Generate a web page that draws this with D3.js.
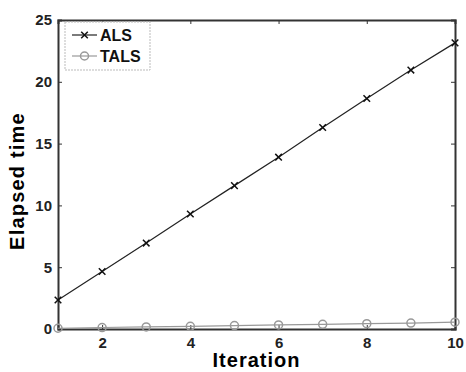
<!DOCTYPE html>
<html>
<head>
<meta charset="utf-8">
<script src="https://cdn.jsdelivr.net/npm/d3@7"></script>
<style>
  body { margin: 0; background: #fff; }
  text { font-family: "Liberation Sans", Arial, sans-serif; font-weight: bold; }
</style>
</head>
<body>
<div id="chart"></div>
<script>
// Data
var iterations = [1, 2, 3, 4, 5, 6, 7, 8, 9, 10];
var alsTime = [2.35, 4.65, 6.95, 9.3, 11.6, 13.9, 16.3, 18.65, 20.95, 23.15];
var talsTime = [0.06, 0.12, 0.17, 0.22, 0.28, 0.33, 0.38, 0.43, 0.48, 0.55];
var xTicks = [2, 4, 6, 8, 10];
var yTicks = [0, 5, 10, 15, 20, 25];

var width = 466, height = 372;
var margin = {top: 20, right: 11, bottom: 43, left: 58};
var w = width - margin.left - margin.right,
    h = height - margin.top - margin.bottom;

var svg = d3.select("#chart").append("svg")
    .attr("width", width)
    .attr("height", height);

var g = svg.append("g")
    .attr("transform", "translate(" + margin.left + "," + margin.top + ")");

var x = d3.scaleLinear().domain([1, 10]).range([0, w]);
var y = d3.scaleLinear().domain([0, 25]).range([h, 0]);

// Axes (ticks pointing inward, like matlab)
var xAxis = d3.axisBottom(x).tickValues(xTicks).tickSize(-4).tickPadding(8);
var yAxis = d3.axisLeft(y).tickValues(yTicks).tickSize(-4).tickPadding(6);

g.append("g").attr("class", "x axis")
    .attr("transform", "translate(0," + h + ")")
    .call(xAxis);
g.append("g").attr("class", "y axis").call(yAxis);
g.append("g").attr("transform", "translate(0,0)")
    .call(d3.axisTop(x).tickValues(xTicks).tickSize(-4).tickFormat(""));
g.append("g").attr("transform", "translate(" + w + ",0)")
    .call(d3.axisRight(y).tickValues(yTicks).tickSize(-4).tickFormat(""));

g.selectAll(".domain").attr("stroke", "#333").attr("stroke-width", 2);
g.selectAll(".tick line").attr("stroke", "#333");
g.selectAll(".tick text").style("font-size", "15px").attr("fill", "#222");

// Series
var line = d3.line()
    .x(function(d, i) { return x(iterations[i]); })
    .y(function(d) { return y(d); });

g.append("path").datum(talsTime)
    .attr("fill", "none").attr("stroke", "#999").attr("stroke-width", 1.2)
    .attr("d", line);

g.selectAll(".tals").data(talsTime).enter().append("circle")
    .attr("class", "tals")
    .attr("cx", function(d, i) { return x(iterations[i]); })
    .attr("cy", function(d) { return y(d); })
    .attr("r", 4)
    .attr("fill", "none").attr("stroke", "#999").attr("stroke-width", 1.5);

g.append("path").datum(alsTime)
    .attr("fill", "none").attr("stroke", "#222").attr("stroke-width", 1.2)
    .attr("d", line);

var cross = d3.symbol().type(d3.symbolX).size(30);
g.selectAll(".als").data(alsTime).enter().append("path")
    .attr("class", "als")
    .attr("transform", function(d, i) {
        return "translate(" + x(iterations[i]) + "," + y(d) + ")";
    })
    .attr("d", cross)
    .attr("fill", "none").attr("stroke", "#111").attr("stroke-width", 1.5);

// Axis labels
svg.append("text")
    .attr("x", margin.left + w / 2).attr("y", 367)
    .attr("text-anchor", "middle")
    .style("font-size", "20px").style("letter-spacing", "1px")
    .text("Iteration");

svg.append("text")
    .attr("transform", "translate(24," + 181 + ") rotate(-90)")
    .attr("text-anchor", "middle")
    .style("font-size", "20px").style("letter-spacing", "1.2px")
    .text("Elapsed time");

// Legend
var legend = g.append("g").attr("transform", "translate(7,2)");
legend.append("rect")
    .attr("width", 85).attr("height", 48)
    .attr("fill", "#fff").attr("stroke", "#bbb").attr("stroke-dasharray", "2,1");

var series = [
    {name: "ALS", color: "#222"},
    {name: "TALS", color: "#999"}
];
var item = legend.selectAll(".item").data(series).enter().append("g")
    .attr("class", "item")
    .attr("transform", function(d, i) { return "translate(0," + (13 + i * 21) + ")"; });

item.append("line")
    .attr("x1", 7).attr("x2", 32)
    .attr("stroke", function(d) { return d.color; }).attr("stroke-width", 1.2);

item.filter(function(d, i) { return i === 0; }).append("path")
    .attr("transform", "translate(19.5,0)")
    .attr("d", cross)
    .attr("fill", "none").attr("stroke", "#111").attr("stroke-width", 1.5);
item.filter(function(d, i) { return i === 1; }).append("circle")
    .attr("cx", 19.5).attr("r", 4)
    .attr("fill", "none").attr("stroke", "#999").attr("stroke-width", 1.5);

item.append("text")
    .attr("x", 35).attr("dy", "0.35em")
    .style("font-size", "16px").attr("fill", "#111")
    .text(function(d) { return d.name; });
</script>
</body>
</html>
